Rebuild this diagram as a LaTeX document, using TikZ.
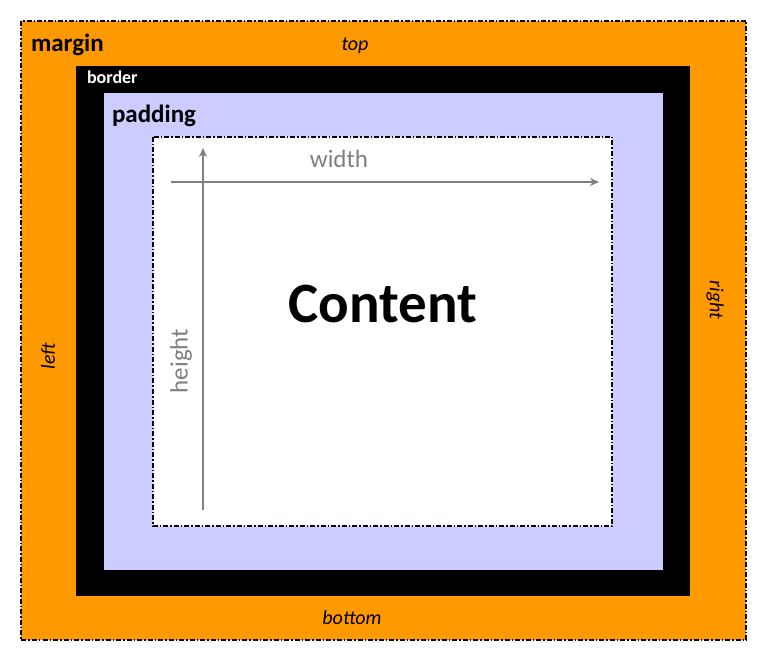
\documentclass[tikz,border=0pt]{standalone}
\usepackage{fontspec}
\setmainfont{Carlito}
\usetikzlibrary{arrows.meta}
\definecolor{marginc}{RGB}{255,153,0}
\definecolor{padc}{RGB}{204,204,255}
\definecolor{arrowc}{RGB}{128,128,128}
\tikzset{
  dashbox/.style={draw=black,line width=1.7pt,dash pattern=on 5pt off 2pt on 1.5pt off 2pt},
  lbl/.style={inner sep=0pt,outer sep=0pt},
  measure/.style={draw=arrowc,line width=2.3pt,-{Stealth[length=9pt,width=8pt]}},
}
\newcommand{\fs}[1]{\fontsize{#1}{#1}\selectfont}
\begin{document}
\begin{tikzpicture}[x=1pt,y=-1pt]
\useasboundingbox (0,0) rectangle (766,660);
\fill[white] (0,0) rectangle (766,660);
% margin
\fill[marginc] (21,21) rectangle (746,640);
\draw[dashbox] (21,21) rectangle (746,640);
% border
\fill[black] (76,66) rectangle (690,596);
% padding
\fill[padc] (104,93) rectangle (663,570);
% content
\fill[white] (153,137) rectangle (612,526);
\draw[dashbox] (153,137) rectangle (612,526);
% labels
\node[lbl,anchor=base west,font=\fs{25}\bfseries] (margin) at (31,52) {margin};
\node[lbl,anchor=base,font=\fs{20}\itshape] (top) at (355,51) {top};
\node[lbl,anchor=base,font=\fs{20}\itshape] (bottom) at (352,624) {bottom};
\node[lbl,rotate=-90,font=\fs{20}\itshape] (right) at (715,300) {right};
\node[lbl,rotate=90,font=\fs{20}\itshape] (left) at (48,356) {left};
\node[lbl,anchor=base west,font=\fs{18}\bfseries,text=white] (border) at (87,84) {border};
\node[lbl,anchor=base west,font=\fs{25}\bfseries] (padding) at (112,123) {padding};
\node[lbl,anchor=base,font=\fs{57}\bfseries] (content) at (383,323) {Content};
\node[lbl,anchor=base,font=\fs{25},text=arrowc] (width) at (339,168) {width};
\node[lbl,rotate=90,font=\fs{25},text=arrowc] (height) at (181,361) {height};
% arrows
\coordinate (wstart) at (171,182);
\coordinate (wend) at (599,182);
\coordinate (hstart) at (203,510);
\coordinate (hend) at (203,148);
\draw[measure] (wstart) -- (wend);
\draw[measure] (hstart) -- (hend);
\end{tikzpicture}
\end{document}
